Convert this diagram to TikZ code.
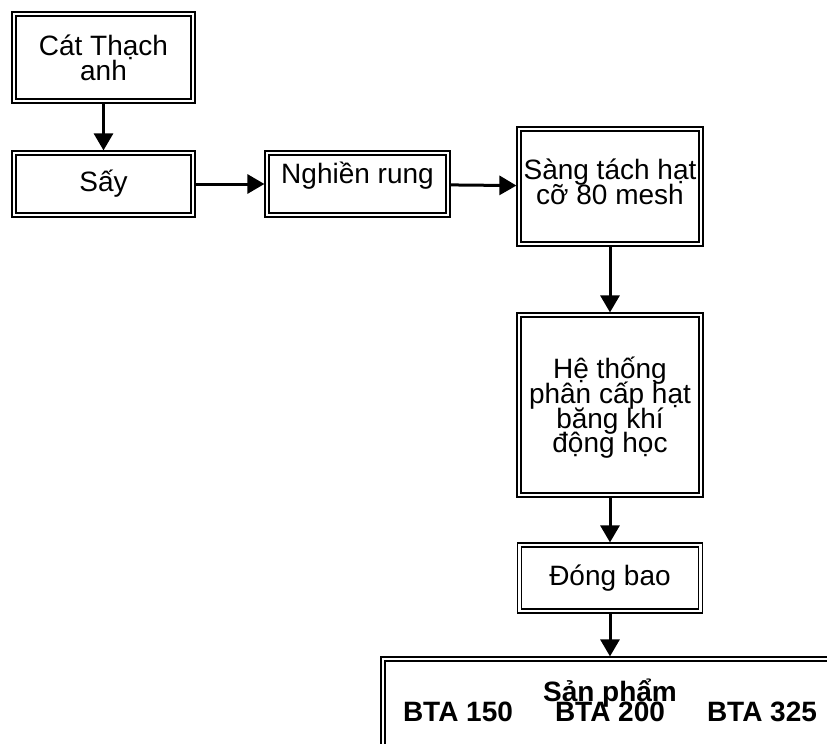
\documentclass[tikz,border=0pt]{standalone}
\usepackage{fontspec}
\setmainfont{Liberation Sans}
\usetikzlibrary{arrows.meta,positioning}
\newcommand{\flowfont}{\fontsize{14}{12.4}\selectfont\lineskiplimit=-100pt\relax}

\begin{document}
\begin{tikzpicture}[
    x=0.5pt, y=-0.5pt,
    font=\flowfont,
    procbox/.style={
        rectangle,
        draw=black,
        line width=0.75pt,
        double,
        double distance=1.2pt,
        align=center,
        inner sep=0pt,
        outer sep=0pt
    },
    flow/.style={
        -{Triangle[length=8.5pt,width=9.5pt]},
        line width=1.5pt,
        shorten >=1.3pt,
        shorten <=1.3pt
    },
    prodtext/.style={
        font=\flowfont\bfseries,
        anchor=base
    }
]

\useasboundingbox (0,0) rectangle (827,744);
\clip (0,0) rectangle (827,744);

\node[procbox, minimum width=89.5pt, minimum height=43.5pt] (sand) at (103.5,57.5)
{Cát Thạch\\anh};

\node[procbox, minimum width=89.5pt, minimum height=31pt, below=26pt of sand] (dry)
{Sấy};

\node[procbox, minimum width=90.5pt, minimum height=31pt, text depth=11pt, right=37pt of dry] (mill)
{Nghiền rung};

\node[procbox, minimum width=91pt, minimum height=57.5pt, text depth=5pt, right=35.5pt of mill, yshift=-1.25pt] (sieve)
{Sàng tách hạt\\cỡ 80 mesh};

\node[procbox, minimum width=91pt, minimum height=90pt, text depth=-1.5pt, below=35.5pt of sieve] (classify)
{Hệ thống\\phân cấp hạt\\băng khí\\động học};

\node[procbox, minimum width=90.5pt, minimum height=33pt, below=25pt of classify] (bag)
{Đóng bao};

\node[procbox, minimum width=227pt, minimum height=80pt, below=24pt of bag] (product) {};

\draw[flow] (sand) -- (dry);
\draw[flow] (dry) -- (mill);
\draw[flow] (mill) -- (sieve);
\draw[flow] (sieve) -- (classify);
\draw[flow] (classify) -- (bag);
\draw[flow] (bag) -- (product);

\node[prodtext] (prodname) at ([yshift=-21pt]product.north) {Sản phẩm};
\node[prodtext] (bta200) at ([yshift=-31pt]product.north) {BTA 200};
\node[prodtext] (bta150) at ([xshift=-76pt]bta200.base) {BTA 150};
\node[prodtext] (bta325) at ([xshift=76pt]bta200.base) {BTA 325};

\end{tikzpicture}
\end{document}
